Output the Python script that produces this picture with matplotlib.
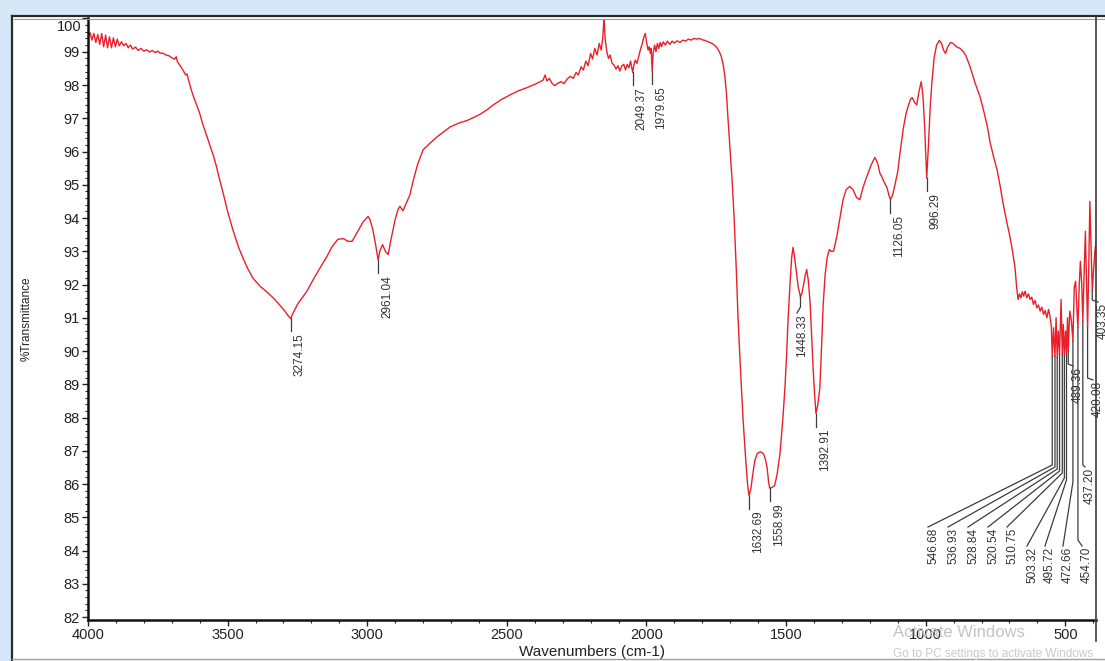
import numpy as np
import matplotlib
matplotlib.use("Agg")
import matplotlib.pyplot as plt
from matplotlib.transforms import IdentityTransform
from matplotlib.patches import Rectangle
from matplotlib.lines import Line2D
from matplotlib.ticker import MultipleLocator, FuncFormatter

plt.rcParams["font.family"] = ["Liberation Sans", "DejaVu Sans"]

W, H = 1105, 661

# FTIR spectrum: wavenumber (cm-1) and %T
wavenumber = [
    4000, 3993, 3986, 3979, 3972, 3965, 3958, 3951, 3944, 3937, 3930, 3923, 3916, 3909, 3902,
    3895, 3888, 3880, 3872, 3864, 3856, 3848, 3840, 3830, 3820, 3810, 3800, 3790, 3780, 3770,
    3760, 3750, 3742, 3730, 3720, 3710, 3700, 3690, 3684, 3680, 3670, 3660, 3650, 3645, 3640,
    3630, 3620, 3610, 3600, 3590, 3580, 3570, 3560, 3550, 3540, 3530, 3516, 3500, 3481, 3460,
    3445, 3431, 3410, 3384, 3360, 3337, 3315, 3295, 3285, 3274.15, 3265, 3250, 3233, 3216, 3190,
    3165, 3144, 3125, 3105, 3085, 3070, 3054, 3035, 3015, 2997, 2990, 2980, 2970, 2961.04, 2955,
    2945, 2935, 2925, 2915, 2900, 2890, 2883, 2872, 2860, 2847, 2836, 2820, 2800, 2775, 2750,
    2725, 2703, 2670, 2643, 2620, 2596, 2570, 2549, 2520, 2489, 2460, 2428, 2400, 2380, 2370,
    2363, 2356, 2348, 2338, 2328, 2318, 2305, 2295, 2284, 2272, 2262, 2252, 2244, 2234, 2226,
    2217, 2209, 2200, 2193, 2185, 2177, 2169, 2162, 2156, 2152, 2148, 2142, 2136, 2130, 2123,
    2116, 2109, 2102, 2095, 2088, 2081, 2075, 2069, 2063, 2057, 2053, 2049.37, 2045, 2040, 2034,
    2028, 2022, 2015, 2009, 2004, 1999, 1994, 1990, 1986, 1983, 1979.65, 1976, 1971, 1966, 1961,
    1956, 1951, 1946, 1940, 1932, 1925, 1916, 1908, 1900, 1890, 1880, 1870, 1860, 1850, 1840,
    1830, 1819, 1810, 1800, 1790, 1780, 1770, 1760, 1750, 1740, 1732, 1725, 1719, 1713, 1708,
    1700, 1693, 1686, 1678, 1672, 1663, 1654, 1645, 1638, 1632.69, 1626, 1620, 1612, 1603, 1592,
    1582, 1575, 1568, 1563, 1558.99, 1550, 1541, 1532, 1522, 1512, 1504, 1498, 1493, 1486, 1480,
    1475, 1470, 1464, 1457, 1448.33, 1443, 1437, 1431, 1426, 1420, 1414, 1408, 1403, 1397, 1392.91,
    1386, 1379, 1373, 1367, 1360, 1353, 1345, 1338, 1330, 1318, 1305, 1296, 1285, 1272, 1260,
    1248, 1236, 1225, 1215, 1206, 1195, 1182, 1172, 1164, 1156, 1147, 1138, 1132, 1126.05, 1118,
    1110, 1100, 1092, 1080, 1070, 1062, 1054, 1048, 1040, 1032, 1024, 1016, 1010, 1004, 996.29,
    990, 984, 978, 970, 961, 951, 943, 936, 929, 921, 911, 902, 890, 877, 865,
    856, 848, 841, 832, 823, 814, 805, 796, 787, 778, 769, 757, 744, 733, 723,
    710, 698, 689, 680, 674, 669, 664, 659, 654, 649, 644, 638, 632, 626, 620,
    614, 608, 602, 596, 590, 584, 578, 572, 566, 560, 555, 550, 546.68, 542, 536.93,
    533, 528.84, 525, 520.54, 515, 510.75, 507, 503.32, 499, 495.72, 492, 489.36, 484, 478, 472.66,
    468, 463, 458, 454.70, 450, 446, 441, 437.20, 432, 428, 424, 420.08, 416, 412, 408,
    403.35, 399, 394, 388,
]
transmittance = [
    99.45, 99.58, 99.35, 99.55, 99.28, 99.52, 99.22, 99.55, 99.15, 99.50, 99.12, 99.45, 99.12, 99.42, 99.15,
    99.38, 99.18, 99.30, 99.18, 99.25, 99.12, 99.20, 99.08, 99.14, 99.04, 99.10, 99.02, 99.06, 98.99, 99.04,
    98.97, 99.02, 98.96, 98.95, 98.90, 98.88, 98.82, 98.78, 98.85, 98.70, 98.58, 98.45, 98.30, 98.33, 98.15,
    97.85, 97.60, 97.38, 97.15, 96.85, 96.60, 96.35, 96.10, 95.85, 95.55, 95.20, 94.75, 94.20, 93.64, 93.10,
    92.80, 92.53, 92.20, 91.95, 91.78, 91.60, 91.40, 91.20, 91.08, 90.98, 91.15, 91.40, 91.60, 91.80, 92.20,
    92.55, 92.85, 93.15, 93.36, 93.38, 93.30, 93.30, 93.58, 93.88, 94.05, 93.95, 93.65, 93.20, 92.74, 93.00,
    93.20, 93.00, 92.90, 93.35, 93.95, 94.25, 94.35, 94.22, 94.45, 94.70, 95.10, 95.60, 96.05, 96.25, 96.44,
    96.60, 96.74, 96.86, 96.93, 97.02, 97.12, 97.26, 97.40, 97.56, 97.70, 97.82, 97.92, 98.02, 98.10, 98.15,
    98.30, 98.12, 98.20, 98.05, 97.98, 98.05, 98.10, 98.04, 98.18, 98.26, 98.20, 98.38, 98.30, 98.55, 98.45,
    98.72, 98.58, 98.95, 98.78, 99.10, 98.90, 99.25, 99.05, 99.45, 100.05, 99.40, 99.00, 98.80, 98.90, 98.65,
    98.60, 98.48, 98.58, 98.42, 98.58, 98.62, 98.45, 98.62, 98.52, 98.72, 98.55, 98.38, 98.60, 98.75, 98.65,
    98.85, 99.05, 99.25, 99.45, 99.55, 99.25, 99.05, 99.15, 98.95, 99.10, 98.42, 98.95, 99.20, 99.00, 99.25,
    99.10, 99.28, 99.15, 99.30, 99.20, 99.32, 99.22, 99.32, 99.26, 99.33, 99.28, 99.35, 99.32, 99.38, 99.35,
    99.40, 99.38, 99.40, 99.36, 99.34, 99.30, 99.27, 99.22, 99.15, 99.02, 98.86, 98.60, 98.25, 97.70, 97.00,
    96.00, 95.10, 94.00, 92.40, 91.00, 89.40, 87.95, 86.80, 86.00, 85.65, 85.85, 86.25, 86.70, 86.92, 86.97,
    86.92, 86.78, 86.50, 86.10, 85.88, 85.90, 85.95, 86.30, 86.90, 87.90, 88.90, 89.90, 90.90, 92.00, 92.80,
    93.12, 92.85, 92.45, 91.95, 91.62, 91.75, 92.00, 92.30, 92.45, 92.10, 91.45, 90.40, 89.45, 88.60, 88.12,
    88.40, 88.90, 90.10, 91.40, 92.30, 92.80, 93.05, 93.00, 93.00, 93.45, 94.10, 94.55, 94.85, 94.95, 94.85,
    94.62, 94.55, 94.90, 95.15, 95.35, 95.60, 95.82, 95.65, 95.35, 95.22, 95.05, 94.90, 94.70, 94.55, 94.70,
    95.00, 95.40, 95.95, 96.70, 97.15, 97.38, 97.58, 97.62, 97.48, 97.40, 97.80, 98.10, 97.70, 96.80, 95.20,
    96.20, 97.30, 98.05, 98.80, 99.20, 99.34, 99.25, 99.05, 98.95, 99.15, 99.28, 99.25, 99.15, 99.10, 99.00,
    98.88, 98.70, 98.55, 98.30, 98.06, 97.85, 97.64, 97.35, 97.04, 96.70, 96.26, 95.85, 95.44, 94.95, 94.45,
    93.90, 93.43, 93.00, 92.50, 91.90, 91.55, 91.72, 91.60, 91.78, 91.65, 91.80, 91.60, 91.72, 91.55, 91.62,
    91.40, 91.52, 91.30, 91.38, 91.20, 91.32, 91.10, 91.22, 91.00, 91.25, 91.05, 90.75, 89.82, 90.70, 89.85,
    91.00, 89.80, 90.60, 89.90, 91.55, 89.90, 90.80, 89.85, 90.60, 89.90, 91.00, 90.00, 91.20, 90.90, 90.30,
    91.90, 92.10, 91.20, 90.70, 92.00, 92.70, 92.00, 90.90, 92.50, 93.60, 92.20, 90.70, 92.50, 94.50, 93.30,
    91.80, 92.40, 93.00, 93.40,
]

# peak labels as printed by the software
peak_labels = [
    "3274.15", "2961.04", "2049.37", "1979.65", "1632.69", "1558.99", "1448.33", "1392.91",
    "1126.05", "996.29", "546.68", "536.93", "528.84", "520.54", "510.75", "503.32",
    "495.72", "489.36", "472.66", "454.70", "437.20", "420.08", "403.35",
]

# leaders that bend: (elbow y, text centre x, text top y) in screen pixels from top-left
bent_leaders = {
    "1448.33": (307, 802, 314),
    "546.68": (465, 933, 528),
    "536.93": (467, 953, 528),
    "528.84": (469, 973, 528),
    "520.54": (471, 993, 528),
    "510.75": (473, 1012, 528),
    "503.32": (478, 1032, 547),
    "495.72": (480, 1050, 547),
    "472.66": (482, 1068, 547),
    "454.70": (540, 1087, 547),
    "489.36": (364, 1078, 367),
    "437.20": (465, 1090, 468),
    "420.08": (378, 1098, 381),
    "403.35": (300, 1103, 303),
}

fig = plt.figure(figsize=(W / 100, H / 100), dpi=100)
fig.patch.set_facecolor("white")
px = IdentityTransform()

# screenshot window border
fig.add_artist(Rectangle((0, H - 15), W, 15, transform=px, color="#d8e7f8", lw=0, zorder=0))
fig.add_artist(Rectangle((0, 0), 12, H, transform=px, color="#d8e7f8", lw=0, zorder=0))
fig.add_artist(Line2D([12, W], [H - 16, H - 16], transform=px, color="#2a2a2a", lw=1.6))
fig.add_artist(Line2D([14, W], [H - 19, H - 19], transform=px, color="#9a9a9a", lw=0.8))
fig.add_artist(Line2D([12, 12], [0, H - 16], transform=px, color="#2a2a2a", lw=1.6))
fig.add_artist(Line2D([1096, 1096], [H - 641, H - 16], transform=px, color="#3a3a3a", lw=1.2))
fig.add_artist(Line2D([12, W], [2, 2], transform=px, color="#a0a0a0", lw=1.0))

ax = fig.add_axes([88 / W, 1 - 619.7 / H, 1008 / W, 601.2 / H])
ax.plot(wavenumber, transmittance, color="#e8202a", lw=1.0)
ax.set_xlim(4000, 390)
ax.set_ylim(81.92, 100.0)

ax.xaxis.set_major_locator(MultipleLocator(500))
ax.xaxis.set_minor_locator(MultipleLocator(100))
ax.yaxis.set_major_locator(MultipleLocator(1))
ax.yaxis.set_minor_locator(MultipleLocator(0.2))
# the top label sits lower, inside the frame, so it is drawn by hand below
ax.yaxis.set_major_formatter(FuncFormatter(lambda v, p: "" if v > 99.5 else f"{v:.0f}"))
ax.tick_params(which="major", direction="out", length=4, width=1, labelsize=10.5,
               colors="#222222", pad=2)
ax.tick_params(which="minor", direction="out", length=2, width=0.8, colors="#222222")
for side in ["top", "right"]:
    ax.spines[side].set_visible(False)
for side in ["left", "bottom"]:
    ax.spines[side].set_linewidth(1.8)
    ax.spines[side].set_color("#111111")
fig.text(82, H - 27, "100", transform=px, ha="right", va="center", fontsize=10.5,
         color="#222222")

ax.set_xlabel("Wavenumbers (cm-1)", fontsize=11, color="#222222")
ax.xaxis.set_label_coords(0.5, -0.042)
ax.set_ylabel("%Transmittance", fontsize=8.5, color="#222222")
ax.yaxis.set_label_coords(-0.0546, 0.5)

# peak labels with their leader lines
wn_asc = np.array(wavenumber[::-1])
t_asc = np.array(transmittance[::-1])
for lab in peak_labels:
    wn = float(lab)
    t = np.interp(wn, wn_asc, t_asc)
    x0, yd = ax.transData.transform((wn, t))
    y0 = H - yd
    if lab in bent_leaders:
        ey, cx, top = bent_leaders[lab]
        xs = [x0, x0, cx - 5]
        ys = [y0, ey, top - 1]
    else:
        xs = [x0, x0]
        ys = [y0, y0 + 13]
        cx, top = x0 + 9, y0 + 15
    fig.add_artist(Line2D(xs, [H - v for v in ys], transform=px, color="#3c3c3c", lw=0.9))
    fig.text(cx, H - top, lab, transform=px, rotation=90, ha="center", va="top",
             fontsize=8.5, color="#333333")

# Windows watermark from the screenshot
fig.text(893, H - 637, "Activate Windows", transform=px, fontsize=12, color="#c4c4c4")
fig.text(893, H - 657, "Go to PC settings to activate Windows", transform=px,
         fontsize=8.5, color="#cacaca")

fig.savefig("out.png", dpi=100)
